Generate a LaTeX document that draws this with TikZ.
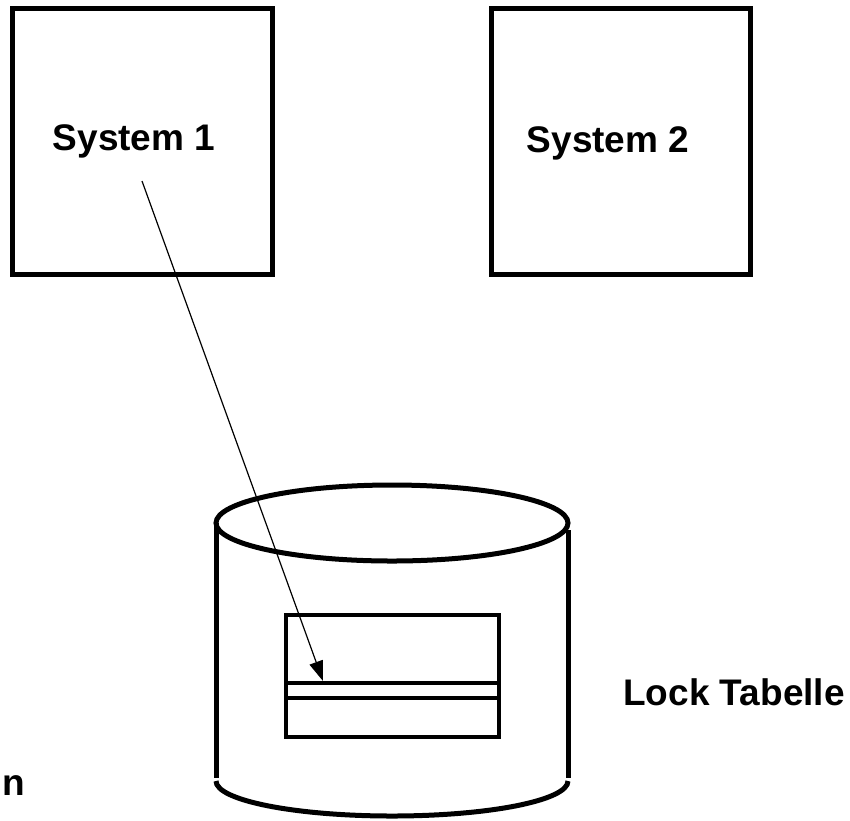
\documentclass[tikz,border=0pt]{standalone}
\usepackage{fontspec}
\setmainfont{Liberation Sans}
\usetikzlibrary{arrows.meta}
\tikzset{lbl/.style={font=\bfseries\fontsize{37}{40}\selectfont, inner sep=0pt, anchor=base}}
\begin{document}
\begin{tikzpicture}[x=1pt, y=-1pt, line width=5pt]
	\useasboundingbox (0, 0) rectangle (850, 820);

	\draw (12, 8) rectangle (272, 274);
	\draw (491, 8) rectangle (750, 274);
	\node[lbl] at (134, 150) (sys1) {System 1};
	\node[lbl] at (608, 152) (sys2) {System 2};

	\draw (392, 523) ellipse [x radius=176pt, y radius=38pt];
	\draw (216, 523) -- (216, 778);
	\draw (568, 530) -- (568, 778);
	\draw (216, 781) arc [start angle=180, end angle=360, x radius=176pt, y radius=35pt];

	\draw[line width=4pt] (286, 615) rectangle (499, 737);
	\foreach \y in {683, 698}{
		\draw[line width=4pt] (286, \y) -- (499, \y);
	}

	\coordinate (src) at (142, 181);
	\coordinate (row) at (323, 681);
	\draw[line width=1.2pt, -{Triangle[length=20pt, width=14pt]}] (src) -- (row);

	\node[lbl] at (734, 705) (lock) {Lock Tabelle};
	\node[lbl, anchor=base west] at (0, 795) (n) {n};
\end{tikzpicture}
\end{document}
